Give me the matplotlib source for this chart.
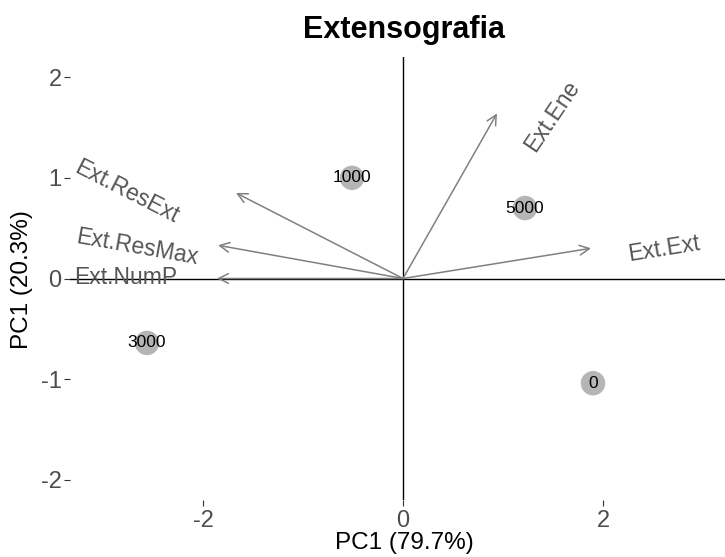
import numpy as np
import matplotlib.pyplot as plt

plt.rcParams['font.family'] = ['Liberation Sans', 'DejaVu Sans']
plt.rcParams['axes.unicode_minus'] = False

# Sample scores (PC1, PC2)
samples = ['1000', '5000', '3000', '0']
pc1_scores = [-0.51, 1.22, -2.56, 1.90]
pc2_scores = [1.00, 0.70, -0.64, -1.04]

# Variable loadings (arrow tips)
variables = ['Ext.Ene', 'Ext.Ext', 'Ext.ResExt', 'Ext.ResMax', 'Ext.NumP']
load_x = [0.94, 1.88, -1.67, -1.85, -1.86]
load_y = [1.64, 0.30, 0.85, 0.33, 0.00]

# Variable label centres and angles
label_x = [1.49, 2.61, -2.76, -2.66, -2.77]
label_y = [1.61, 0.29, 0.86, 0.31, 0.01]
label_angle = [56, 9, -27, -10, 0]

fig = plt.figure(figsize=(7.25, 5.57), dpi=100)
ax = fig.add_axes([70 / 725, 57 / 557, 655 / 725, 443 / 557])

ax.set_xlim(-3.33, 3.22)
ax.set_ylim(-2.2, 2.2)

# Axes through origin
ax.axhline(0, color='black', lw=1.0, zorder=1)
ax.axvline(0, color='black', lw=1.0, zorder=1)

# Loadings
for vx, vy in zip(load_x, load_y):
    ax.annotate('', xy=(vx, vy), xytext=(0, 0),
                arrowprops=dict(arrowstyle='->,head_length=0.7,head_width=0.35',
                                color='#808080', lw=1.1, shrinkA=0, shrinkB=0),
                zorder=2)
for name, tx, ty, ang in zip(variables, label_x, label_y, label_angle):
    ax.text(tx, ty, name, rotation=ang, rotation_mode='anchor',
            ha='center', va='center', fontsize=16.5, color='#555555', zorder=3)

# Scores
ax.scatter(pc1_scores, pc2_scores, s=310, color='#b5b5b5', edgecolors='none', zorder=4)
for name, sx, sy in zip(samples, pc1_scores, pc2_scores):
    ax.text(sx, sy, name, ha='center', va='center', fontsize=12.5, color='black', zorder=5)

for side in ['top', 'right', 'bottom', 'left']:
    ax.spines[side].set_visible(False)

ax.set_xticks([-2, 0, 2])
ax.set_yticks([-2, -1, 0, 1, 2])
ax.tick_params(axis='both', length=4, width=0.8, color='#333333',
               labelsize=17, labelcolor='#4d4d4d')
ax.tick_params(axis='y', pad=2)
ax.tick_params(axis='x', pad=3)

fig.text(404 / 725, 1 - 543 / 557, 'PC1 (79.7%)', ha='center', va='center', fontsize=17.5)
fig.text(22 / 725, 1 - 280 / 557, 'PC1 (20.3%)', ha='center', va='center',
         rotation=90, fontsize=17.5)
fig.text(404 / 725, 1 - 30 / 557, 'Extensografia', ha='center', va='center',
         fontsize=22, fontweight='bold')

fig.savefig('out.png', dpi=100)
